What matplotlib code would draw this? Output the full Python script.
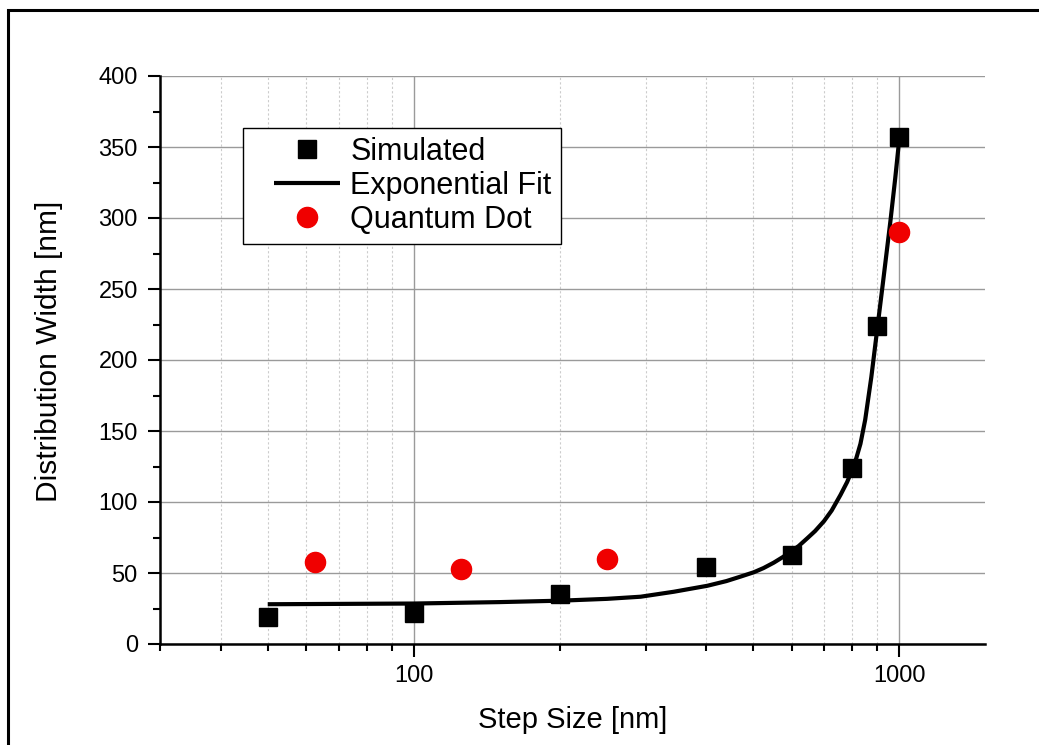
import matplotlib
matplotlib.use("Agg")
import matplotlib.pyplot as plt
from matplotlib.patches import Rectangle
from matplotlib.lines import Line2D
from matplotlib.legend_handler import HandlerLine2D
from matplotlib.ticker import LogLocator, MultipleLocator, FixedLocator, NullFormatter
import numpy as np

plt.rcParams['font.family'] = ['Liberation Sans', 'DejaVu Sans']

# Simulated (squares)
sim_x = [50, 100, 200, 400, 600, 800, 900, 1000]
sim_y = [19, 22, 35, 54, 63, 124, 224, 357]

# Quantum Dot (red circles)
qd_x = [62.5, 125, 250, 1000]
qd_y = [58, 53, 60, 290]

# Exponential fit, points
fit_x = [50, 100, 150, 200, 250, 293, 343, 402, 440, 471, 501, 525, 551, 575, 597, 620,
         646, 670, 699, 725, 756, 780, 800, 815, 831, 850, 875, 900, 925, 958, 980, 1000]
fit_y = [28, 28.5, 29.5, 30.5, 31.8, 33.3, 36.8, 41, 44.3, 47.5, 50.5, 53.5, 57.3, 61.2, 65, 69,
         74.5, 79.5, 86.5, 94, 105, 114, 123, 131, 141, 158, 188, 222, 255, 298, 328, 357]

W, H = 1039, 745
fig = plt.figure(figsize=(W / 100, H / 100), dpi=100)
ax = fig.add_axes([160 / W, 1 - 644 / H, (985 - 160) / W, (644 - 76) / H])

# outer frame of the picture
fig.patches.append(Rectangle((8 / W, -0.1), 1.2, 0.1 + (H - 10) / H,
                             transform=fig.transFigure, fill=False,
                             edgecolor='black', linewidth=2.2))

ax.set_xscale('log')
ax.set_xlim(30, 1500)
ax.set_ylim(0, 400)

ax.plot(fit_x, fit_y, color='black', lw=3, zorder=3, label='Exponential Fit',
        solid_capstyle='butt', solid_joinstyle='round')
ax.plot(sim_x, sim_y, ls='none', marker='s', ms=12.5, color='black', zorder=4, label='Simulated')
ax.plot(qd_x, qd_y, ls='none', marker='o', ms=14.5, color='#f00000', mec='#f00000', zorder=4,
        label='Quantum Dot')

ax.xaxis.set_major_locator(FixedLocator([100, 1000]))
ax.xaxis.set_minor_locator(LogLocator(base=10, subs=np.arange(2, 10)))
ax.xaxis.set_minor_formatter(NullFormatter())
ax.set_xticklabels(['100', '1000'])
ax.yaxis.set_major_locator(MultipleLocator(50))
ax.yaxis.set_minor_locator(MultipleLocator(25))

ax.grid(True, which='major', axis='both', color='#9a9a9a', lw=1.0)
ax.grid(True, which='minor', axis='x', color='#cccccc', lw=0.8, ls=(0, (2, 2)))
ax.set_axisbelow(True)

for s in ['top', 'right']:
    ax.spines[s].set_visible(False)
for s in ['left', 'bottom']:
    ax.spines[s].set_linewidth(1.8)

ax.tick_params(which='major', direction='out', length=9, width=1.5, labelsize=17)
ax.tick_params(axis='y', which='major', pad=7)
ax.tick_params(axis='x', which='major', pad=6)
ax.tick_params(which='minor', direction='out', length=5, width=1.5)

ax.set_xlabel('Step Size [nm]', fontsize=21, labelpad=14)
ax.set_ylabel('Distribution Width [nm]', fontsize=21.5)
ax.yaxis.set_label_coords((63 - 160) / 825, (644 - 351) / 568)

handles, labels = ax.get_legend_handles_labels()
order = [1, 0, 2]
leg = ax.legend([handles[i] for i in order], [labels[i] for i in order],
                loc='upper left', bbox_to_anchor=((243 - 160) / 825, (644 - 128) / 568),
                fontsize=22, frameon=True, fancybox=False, framealpha=1,
                edgecolor='black', borderpad=0.3, labelspacing=0.13,
                handlelength=2.88, handletextpad=0.33, borderaxespad=0,
                handler_map={Line2D: HandlerLine2D(xpad=0.72)})
leg.get_frame().set_linewidth(1.0)

fig.savefig('out.png', dpi=100)
